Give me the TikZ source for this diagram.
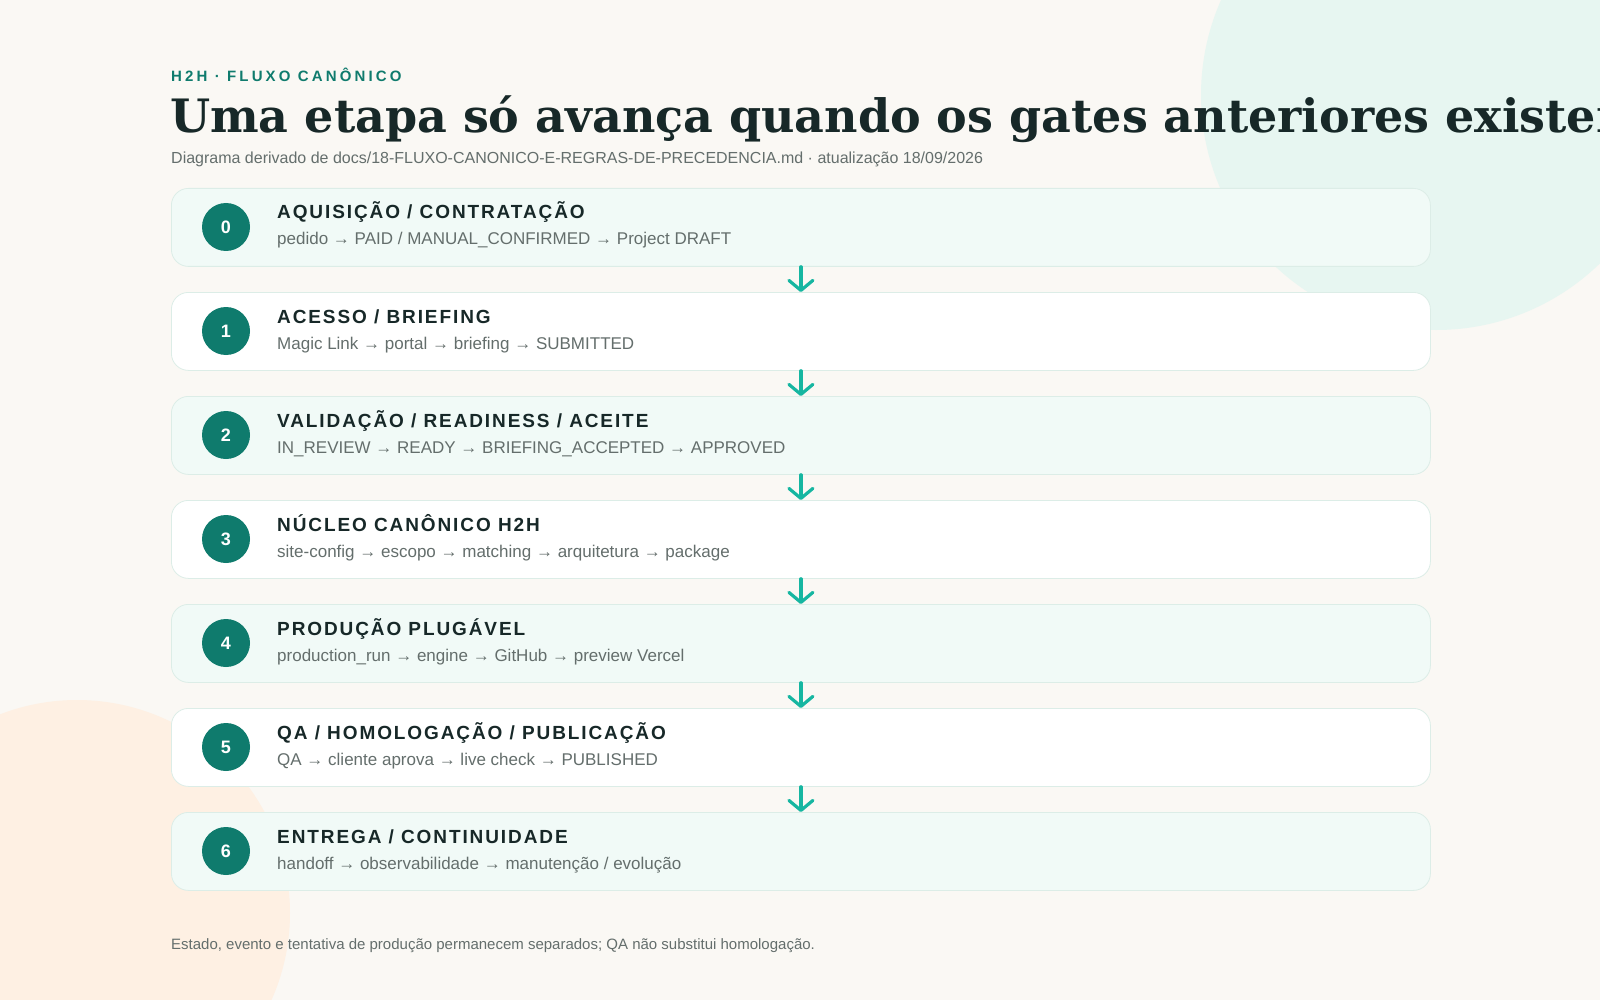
\documentclass[tikz,border=0pt]{standalone}
\usepackage{fontspec}
\usepackage{xcolor}
\usetikzlibrary{positioning,arrows.meta}
\setmainfont{Liberation Sans}
\newfontfamily\titlefont{DejaVu Serif}
\newfontfamily\trackfont{Liberation Sans}[LetterSpace=10]
\newfontfamily\kickerfont{Liberation Sans}[LetterSpace=21]
\definecolor{bgcream}{HTML}{FAF8F4}
\definecolor{mintblob}{HTML}{E7F6F1}
\definecolor{peachblob}{HTML}{FEF0E3}
\definecolor{cardmint}{HTML}{F1FAF7}
\definecolor{cardline}{HTML}{DCEDE7}
\definecolor{teal}{HTML}{0F7B6D}
\definecolor{arrowteal}{HTML}{16B6A1}
\definecolor{ink}{HTML}{172828}
\definecolor{muted}{HTML}{646E6C}

\begin{document}
\begin{tikzpicture}[
    x=1pt, y=-1pt,
    stage/.style={draw=cardline, line width=0.8pt, rounded corners=17pt, minimum width=1259pt, minimum height=78pt, anchor=north west, inner sep=0pt},
    stagemint/.style={stage, fill=cardmint},
    stagewhite/.style={stage, fill=white},
    badge/.style={circle, fill=teal, text=white, minimum size=48pt, inner sep=0pt, font=\fontsize{18}{20}\selectfont\bfseries},
    heading/.style={anchor=base west, inner sep=0pt, text=ink, font=\fontsize{19}{21}\selectfont\trackfont\bfseries},
    steps/.style={anchor=base west, inner sep=0pt, text=muted, font=\fontsize{17}{19}\selectfont},
    arrow/.style={draw=arrowteal, line width=3.2pt, line cap=round, -{Straight Barb[length=10pt, width=24pt, line cap=round, line join=round]}}
]
    \useasboundingbox (0,0) rectangle (1600,1000);
    \clip (0,0) rectangle (1600,1000);
    \fill[bgcream] (0,0) rectangle (1600,1000);
    \fill[mintblob] (1436,95) circle (235);
    \fill[peachblob] (77,913) circle (213);

    % header
    \node[anchor=base west, inner sep=0pt, text=teal, font=\fontsize{15}{18}\selectfont\kickerfont\bfseries] (kicker) at (171,82) {H2H · FLUXO CANÔNICO};
    \node[anchor=base west, inner sep=0pt, text=ink, font=\fontsize{46}{50}\selectfont\titlefont\bfseries] (title) at (170,133) {Uma etapa só avança quando os gates anteriores existem};
    \node[anchor=base west, inner sep=0pt, text=muted, font=\fontsize{16}{18}\selectfont] (subtitle) at (171,164) {Diagrama derivado de docs/18-FLUXO-CANONICO-E-REGRAS-DE-PRECEDENCIA.md · atualização 18/09/2026};

    % stages
    \node[stagemint] (s0) at (171,188) {};
    \node[badge] (n0) at (226,227) {0};
    \node[heading] (h0) at (277,219) {AQUISIÇÃO / CONTRATAÇÃO};
    \node[steps] (t0) at (277,245) {pedido → PAID / MANUAL\_CONFIRMED → Project DRAFT};

    \node[stagewhite] (s1) at (171,292) {};
    \node[badge] (n1) at (226,331) {1};
    \node[heading] (h1) at (277,323) {ACESSO / BRIEFING};
    \node[steps] (t1) at (277,349) {Magic Link → portal → briefing → SUBMITTED};

    \node[stagemint] (s2) at (171,396) {};
    \node[badge] (n2) at (226,435) {2};
    \node[heading] (h2) at (277,427) {VALIDAÇÃO / READINESS / ACEITE};
    \node[steps] (t2) at (277,453) {IN\_REVIEW → READY → BRIEFING\_ACCEPTED → APPROVED};

    \node[stagewhite] (s3) at (171,500) {};
    \node[badge] (n3) at (226,539) {3};
    \node[heading] (h3) at (277,531) {NÚCLEO CANÔNICO H2H};
    \node[steps] (t3) at (277,557) {site-config → escopo → matching → arquitetura → package};

    \node[stagemint] (s4) at (171,604) {};
    \node[badge] (n4) at (226,643) {4};
    \node[heading] (h4) at (277,635) {PRODUÇÃO PLUGÁVEL};
    \node[steps] (t4) at (277,661) {production\_run → engine → GitHub → preview Vercel};

    \node[stagewhite] (s5) at (171,708) {};
    \node[badge] (n5) at (226,747) {5};
    \node[heading] (h5) at (277,739) {QA / HOMOLOGAÇÃO / PUBLICAÇÃO};
    \node[steps] (t5) at (277,765) {QA → cliente aprova → live check → PUBLISHED};

    \node[stagemint] (s6) at (171,812) {};
    \node[badge] (n6) at (226,851) {6};
    \node[heading] (h6) at (277,843) {ENTREGA / CONTINUIDADE};
    \node[steps] (t6) at (277,869) {handoff → observabilidade → manutenção / evolução};

    \draw[arrow] (s0.south) -- (s1.north);
    \draw[arrow] (s1.south) -- (s2.north);
    \draw[arrow] (s2.south) -- (s3.north);
    \draw[arrow] (s3.south) -- (s4.north);
    \draw[arrow] (s4.south) -- (s5.north);
    \draw[arrow] (s5.south) -- (s6.north);

    \node[anchor=base west, inner sep=0pt, text=muted, font=\fontsize{15}{18}\selectfont] (footer) at (171,949) {Estado, evento e tentativa de produção permanecem separados; QA não substitui homologação.};
\end{tikzpicture}
\end{document}
